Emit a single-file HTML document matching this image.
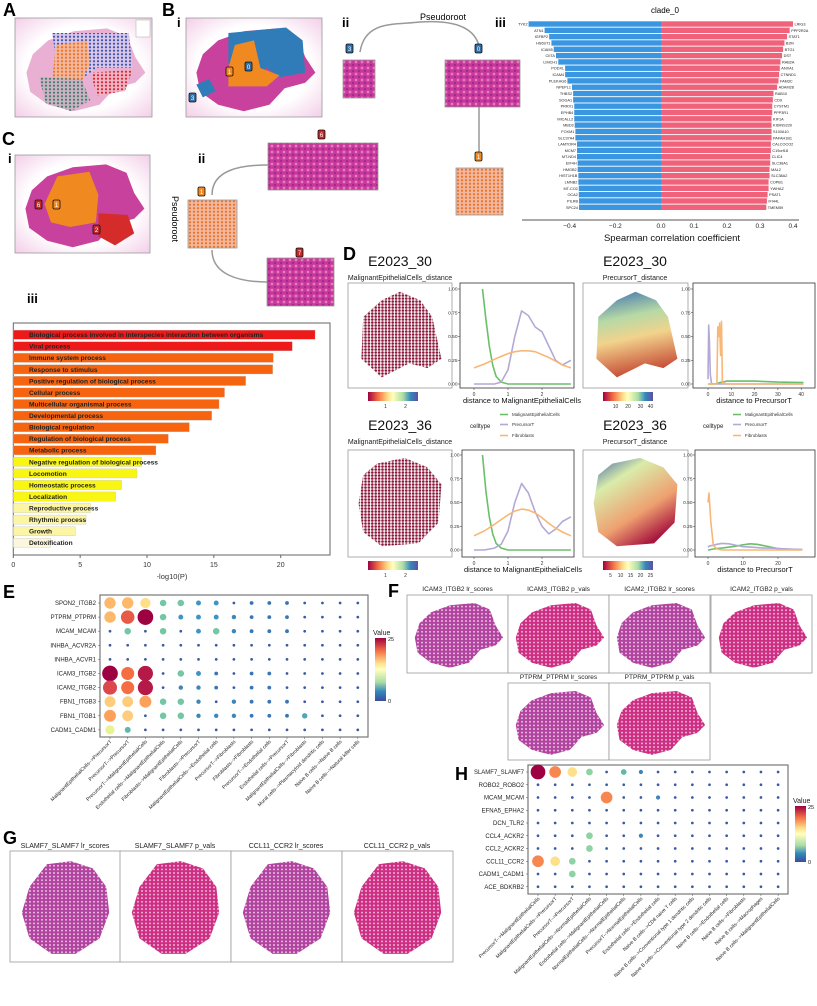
<!DOCTYPE html>
<html><head><meta charset="utf-8">
<style>
html,body{margin:0;padding:0;background:#fff;}
svg{display:block;font-family:"Liberation Sans",sans-serif;}
.pl{font-weight:bold;font-size:18px;fill:#000;}
.sl{font-weight:bold;font-size:13px;fill:#000;}
</style></head><body>
<svg id="fig" width="817" height="1006" viewBox="0 0 817 1006" xmlns="http://www.w3.org/2000/svg">
<defs>
<pattern id="pBlue" width="4" height="3.5" patternUnits="userSpaceOnUse"><rect width="4" height="3.5" fill="#d9c6ea"/><circle cx="2" cy="1.7" r="1.1" fill="#3f57a8"/></pattern>
<pattern id="pOrange" width="4" height="3.5" patternUnits="userSpaceOnUse"><rect width="4" height="3.5" fill="#f2b79c"/><circle cx="2" cy="1.7" r="1.1" fill="#e8742a"/></pattern>
<pattern id="pRed" width="4" height="3.5" patternUnits="userSpaceOnUse"><rect width="4" height="3.5" fill="#f0b5c5"/><circle cx="2" cy="1.7" r="1.1" fill="#d4283a"/></pattern>
<pattern id="pGray" width="4" height="3.5" patternUnits="userSpaceOnUse"><rect width="4" height="3.5" fill="#c9b3c4"/><circle cx="2" cy="1.7" r="1.1" fill="#4c7a6e"/></pattern>
<pattern id="pWhite" width="4" height="3.6" patternUnits="userSpaceOnUse"><rect width="4" height="3.6" fill="#b0449e"/><circle cx="2" cy="1.8" r="0.9" fill="#f4d4ee"/></pattern>
<pattern id="pWhite2" width="4" height="3.6" patternUnits="userSpaceOnUse"><rect width="4" height="3.6" fill="#cc2f84"/><circle cx="2" cy="1.8" r="0.9" fill="#f6cbe0"/></pattern>
<pattern id="pDark" width="3.4" height="3" patternUnits="userSpaceOnUse"><rect width="3.4" height="3" fill="#ffffff"/><circle cx="1.7" cy="1.5" r="1.3" fill="#8a1538"/></pattern>
<pattern id="pHE" width="6" height="6" patternUnits="userSpaceOnUse"><rect width="6" height="6" fill="#c8379a"/><circle cx="2" cy="2" r="1.4" fill="#e67ac0"/><circle cx="5" cy="5" r="1" fill="#8e2a8a"/></pattern>
<linearGradient id="spec" x1="0" x2="1" y1="0" y2="0">
<stop offset="0" stop-color="#9e0142"/><stop offset="0.2" stop-color="#f46d43"/><stop offset="0.4" stop-color="#fee08b"/><stop offset="0.5" stop-color="#ffffbf"/><stop offset="0.7" stop-color="#abdda4"/><stop offset="0.85" stop-color="#3288bd"/><stop offset="1" stop-color="#5e4fa2"/></linearGradient>
<linearGradient id="specV" x1="0" x2="0" y1="0" y2="1">
<stop offset="0" stop-color="#9e0142"/><stop offset="0.2" stop-color="#f46d43"/><stop offset="0.4" stop-color="#fee08b"/><stop offset="0.5" stop-color="#ffffbf"/><stop offset="0.7" stop-color="#abdda4"/><stop offset="0.85" stop-color="#3288bd"/><stop offset="1" stop-color="#3a4c9c"/></linearGradient>
<linearGradient id="distGrad" x1="0" x2="0.2" y1="0" y2="1">
<stop offset="0" stop-color="#3a6fb0"/><stop offset="0.35" stop-color="#b6d9a6"/><stop offset="0.6" stop-color="#f2d38c"/><stop offset="1" stop-color="#c8523a"/></linearGradient>
<linearGradient id="distGrad2" x1="0" x2="0.6" y1="0" y2="1">
<stop offset="0" stop-color="#3a5fa8"/><stop offset="0.3" stop-color="#d9ecaa"/><stop offset="0.7" stop-color="#eea070"/><stop offset="1" stop-color="#a8163e"/></linearGradient>
<radialGradient id="bgPink" cx="0.5" cy="0.5" r="0.7"><stop offset="0.6" stop-color="#fff"/><stop offset="1" stop-color="#f3cfe8"/></radialGradient>
</defs>

<text class="pl" x="3" y="16">A</text>
<text class="pl" x="162" y="16">B</text>
<text class="sl" x="177" y="27">i</text>
<text class="sl" x="342" y="27">ii</text>
<text class="sl" x="495" y="27">iii</text>
<text x="420" y="20" font-size="9">Pseudoroot</text>
<text class="pl" x="2" y="145">C</text>
<text class="sl" x="8" y="163">i</text>
<text class="sl" x="198" y="163">ii</text>
<text class="sl" x="27" y="303">iii</text>
<text x="0" y="0" font-size="9" transform="translate(172,196) rotate(90)">Pseudoroot</text>
<text class="pl" x="343" y="260">D</text>
<text class="pl" x="3" y="598">E</text>
<text class="pl" x="388" y="597">F</text>
<text class="pl" x="3" y="844">G</text>
<text class="pl" x="455" y="780">H</text>

<g id="tissues"></g>
<g id="treeB"></g>
<g id="barB"></g>
<g id="barC"></g>
<g id="panelD"></g>
<g id="dotE"></g>
<g id="dotH"></g>
</svg>

<script>
const bLeftGenes = ["TYK2","ATN1","IGFBP2","HS6ST1","ICAM5","CIITA","LIMCH1","PODXL","ICAM4","PLEKHG6","NPEPL1","THBS2","SOGA1","PRRX1","EPHB4","MICALL2","MBD3","FOXM1","SLC37A4","LAMTOR4","MCM7","MT-ND4","EIF4H","HMGB2","HIST1H1B","LMNB2","MT-CO2","OCA2","PILRB","SPC24"];
const bLeftVals = [-0.58,-0.51,-0.49,-0.48,-0.47,-0.46,-0.45,-0.42,-0.42,-0.41,-0.39,-0.385,-0.385,-0.38,-0.38,-0.38,-0.378,-0.375,-0.375,-0.368,-0.368,-0.368,-0.365,-0.365,-0.362,-0.362,-0.36,-0.36,-0.359,-0.359];
const bRightGenes = ["LRIG3","PPP2R2A","STAT1","B2M","BTG1","DST","RAB2A","ANXA1","CTNND1","FAM3C","ADAM28","RAB10","CD9","CYSTM1","PPP3R1","KIF1A","KIDINS220","S100A10","PAFAH1B1","CALCOCO2","C19orf18","CLIC4","SLC38A1","MAL2","SLC38A2","COPB1","YWHAZ","PSAT1","IFI44L","TMEM59"];
const bRightVals = [0.40,0.39,0.382,0.374,0.37,0.367,0.362,0.36,0.358,0.356,0.352,0.341,0.339,0.337,0.337,0.335,0.335,0.335,0.335,0.333,0.333,0.331,0.331,0.329,0.329,0.326,0.326,0.323,0.321,0.319];
const bTicks = [-0.4,-0.2,0.0,0.1,0.2,0.3,0.4];
const bTickLabels = ["\u22120.4","\u22120.2","0.0","0.1","0.2","0.3","0.4"];

const goTerms = ["Biological process involved in interspecies interaction between organisms","Viral process","Immune system process","Response to stimulus","Positive regulation of biological process","Cellular process","Multicellular organismal process","Developmental process","Biological regulation","Regulation of biological process","Metabolic process","Negative regulation of biological process","Locomotion","Homeostatic process","Localization","Reproductive process","Rhythmic process","Growth","Detoxification"];
const goVals = [22.57,20.87,19.45,19.4,17.38,15.8,15.39,14.84,13.17,11.6,10.67,9.6,9.25,8.1,7.65,5.79,5.44,4.64,2.79];
const goTicks = [0,5,10,15,20];

const dTLx = [0.25,0.35,0.45,0.55,0.65,0.8,1.0,1.5,2.0,2.5,2.85];
const dTLgreen = [1.0,0.68,0.4,0.2,0.08,0.02,0,0,0,0,0];
const dXs = [0,0.3,0.6,0.8,1.0,1.2,1.4,1.6,1.8,2.0,2.2,2.4,2.6,2.85];
const dTLpurple = [0,0,0,0.02,0.15,0.5,0.77,0.72,0.6,0.55,0.4,0.25,0.2,0.25];
const dTLorange = [0.17,0.21,0.26,0.29,0.32,0.34,0.35,0.35,0.34,0.31,0.28,0.24,0.2,0.17];
const dBLgreen = [1.0,0.62,0.35,0.17,0.07,0.02,0,0,0,0,0];
const dBLpurple = [0,0,0.02,0.06,0.2,0.5,0.7,0.6,0.4,0.25,0.17,0.22,0.3,0.35];
const dBLorange = [0.15,0.2,0.27,0.32,0.37,0.41,0.43,0.42,0.39,0.34,0.28,0.23,0.19,0.15];
const dTRx = [0,0.3,0.6,1.0,1.5,2.5,3.8,4.2,4.6,5.0,5.4,5.8,6.2,8,12,20,30,41];
const dTRpurple = [0.05,0.62,0.45,0.1,0.01,0,0,0,0,0,0,0,0,0,0,0,0,0];
const dTRorange = [0,0,0,0,0,0,0,0.6,0.5,0.64,0.3,0.66,0.02,0,0,0,0,0];
const dTRgreen = [0,0,0,0,0,0,0.005,0.01,0.01,0.015,0.015,0.02,0.02,0.03,0.03,0.03,0.02,0.015];
const dBRx = [0,0.3,0.8,1.5,2.5,4,6,8,10,12,14,16,18,20,23,27];
const dBRorange = [0.5,0.6,0.3,0.05,0.01,0,0,0,0,0,0,0,0,0,0,0];
const dBRpurple = [0.03,0.04,0.045,0.05,0.06,0.07,0.065,0.05,0.035,0.03,0.025,0.02,0.02,0.015,0.01,0.005];
const dBRgreen = [0,0,0.005,0.01,0.015,0.02,0.03,0.04,0.055,0.065,0.06,0.045,0.03,0.015,0.008,0.003];
const dYTicks = [0,0.25,0.5,0.75,1.0];
const dYTickLabels = ["0.00","0.25","0.50","0.75","1.00"];

const eRows = ["SPON2_ITGB2","PTPRM_PTPRM","MCAM_MCAM","INHBA_ACVR2A","INHBA_ACVR1","ICAM3_ITGB2","ICAM2_ITGB2","FBN1_ITGB3","FBN1_ITGB1","CADM1_CADM1"];
const eCols = ["MalignantEpithelialCells-->PrecursorT","PrecursorT-->PrecursorT","PrecursorT-->MalignantEpithelialCells","Endothelial cells-->MalignantEpithelialCells","Fibroblasts-->MalignantEpithelialCells","Fibroblasts-->PrecursorT","MalignantEpithelialCells-->Endothelial cells","PrecursorT-->Fibroblasts","Fibroblasts-->Fibroblasts","PrecursorT-->Endothelial cells","Endothelial cells-->PrecursorT","MalignantEpithelialCells-->Fibroblasts","Mural cells-->Plasmacytoid dendritic cells","Naive B cells-->Naive B cells","Naive B cells-->Natural killer cells"];
const eVals = [
 [17,17,15,8,8,5,5,1,3,3,3,1,1,1,1],
 [17,21,25,8,5,5,5,4,3,3,3,1,1,1,1],
 [1,8,1,8,1,5,8,4,3,3,3,1,1,1,1],
 [1,1,1,1,1,1,1,1,1,1,1,1,1,1,1],
 [1,1,1,1,1,1,1,1,1,1,1,1,1,1,1],
 [25,20,24,1,8,5,3,1,3,3,1,1,1,1,1],
 [22,20,24,1,4,4,3,1,3,3,1,1,1,1,1],
 [16,16,18,8,8,4,1,4,3,3,3,1,1,1,1],
 [18,16,1,8,8,4,4,4,3,3,3,6,1,1,1],
 [13,7,1,1,1,1,1,1,1,1,1,1,1,1,1]];

const hRows = ["SLAMF7_SLAMF7","ROBO2_ROBO2","MCAM_MCAM","EFNA5_EPHA2","DCN_TLR2","CCL4_ACKR2","CCL2_ACKR2","CCL11_CCR2","CADM1_CADM1","ACE_BDKRB2"];
const hCols = ["PrecursorT-->MalignantEpithelialCells","MalignantEpithelialCells-->PrecursorT","PrecursorT-->PrecursorT","MalignantEpithelialCells-->NormalEpithelialCells","Endothelial cells-->MalignantEpithelialCells","NormalEpithelialCells-->NormalEpithelialCells","PrecursorT-->NormalEpithelialCells","Endothelial cells-->Endothelial cells","Naive B cells-->CD8  naive T cells","Naive B cells-->Conventional type 1 dendritic cells","Naive B cells-->Conventional type 2 dendritic cells","Naive B cells-->Endothelial cells","Naive B cells-->Fibroblasts","Naive B cells-->Macrophages","Naive B cells-->MalignantEpithelialCells"];
const hVals = [
 [25,19,15,9,1,7,4,1,1,1,1,1,1,1,1],
 [1,1,1,1,1,1,1,1,1,1,1,1,1,1,1],
 [1,1,1,1,19,1,1,4,1,1,1,1,1,1,1],
 [1,1,1,1,1,1,1,1,1,1,1,1,1,1,1],
 [1,1,1,1,1,1,1,1,1,1,1,1,1,1,1],
 [1,1,1,9,1,1,4,1,1,1,1,1,1,1,1],
 [1,1,1,9,1,1,1,1,1,1,1,1,1,1,1],
 [19,15,9,1,1,1,1,1,1,1,1,1,1,1,1],
 [1,1,9,1,1,1,1,1,1,1,1,1,1,1,1],
 [1,1,1,1,1,1,1,1,1,1,1,1,1,1,1]];

const NS='http://www.w3.org/2000/svg';
function mk(tag, attrs, parent){const e=document.createElementNS(NS,tag);for(const k in attrs)e.setAttribute(k,attrs[k]);parent.appendChild(e);return e;}
function txt(str, attrs, parent){const e=mk('text',attrs,parent);e.textContent=str;return e;}

const T=document.getElementById('tissues');
const blobU=[[0.05,0.55],[0.1,0.35],[0.22,0.2],[0.42,0.1],[0.68,0.07],[0.84,0.16],[0.9,0.38],[0.98,0.55],[0.9,0.66],[0.74,0.72],[0.62,0.9],[0.42,0.97],[0.22,0.9],[0.08,0.76]];
const roundU=[[0.12,0.3],[0.3,0.08],[0.55,0.05],[0.78,0.12],[0.92,0.3],[0.95,0.55],[0.85,0.8],[0.6,0.95],[0.35,0.95],[0.12,0.8],[0.04,0.55]];
function poly(pts,x,y,w,h){return pts.map(p=>(x+p[0]*w).toFixed(1)+','+(y+p[1]*h).toFixed(1)).join(' ');}
function box(x,y,w,h,fill,name){const r=mk('rect',{x:x,y:y,width:w,height:h,fill:fill,stroke:'#999','stroke-width':0.8},T);return r;}
function blob(pts,x,y,w,h,fill,name){const p=mk('polygon',{points:poly(pts,x,y,w,h),fill:fill},T);return p;}
function badge(x,y,n,col,name){const r=mk('rect',{x:x,y:y,width:7,height:9,rx:1.5,fill:col,stroke:'#111','stroke-width':0.8},T);txt(n,{x:x+3.5,y:y+7,'font-size':6,'text-anchor':'middle',fill:'#fff'},T);}

box(15,18,137,99,'url(#bgPink)','tissue-a-box');
blob(blobU,20,22,128,92,'#eab0d4','tissue-a-blob');
blob([[0.25,0.12],[0.85,0.12],[0.88,0.5],[0.6,0.5],[0.5,0.6],[0.3,0.55]],20,22,128,92,'url(#pBlue)','cluster-0-region');
blob([[0.28,0.25],[0.52,0.2],[0.55,0.45],[0.48,0.65],[0.25,0.65]],20,22,128,92,'url(#pOrange)','cluster-1-region');
blob([[0.55,0.55],[0.88,0.52],[0.82,0.75],[0.6,0.8]],20,22,128,92,'url(#pRed)','cluster-2-region');
blob([[0.15,0.6],[0.48,0.62],[0.55,0.85],[0.4,0.97],[0.2,0.88]],20,22,128,92,'url(#pGray)','cluster-3-region');
mk('rect',{x:136,y:20,width:14,height:17,fill:'#fff',stroke:'#aaa','stroke-width':0.5},T);
box(186,18,136,99,'url(#bgPink)','tissue-b-box');
blob(blobU,190,22,128,92,'#c8419c','tissue-b-blob');
blob([[0.3,0.12],[0.75,0.06],[0.88,0.2],[0.9,0.55],[0.7,0.6],[0.6,0.5],[0.5,0.62],[0.3,0.45]],190,22,128,92,'#2f7cb8','cluster-0-blue-region');
blob([[0.35,0.25],[0.5,0.2],[0.55,0.5],[0.7,0.58],[0.6,0.7],[0.3,0.7],[0.3,0.5]],190,22,128,92,'#f0891f','cluster-1-orange-region');
blob([[0.05,0.68],[0.15,0.62],[0.2,0.75],[0.1,0.82]],190,22,128,92,'#2f7cb8','cluster-3-blue-region');
badge(245,62,'0','#2f6fa8','badge-b-0');badge(226,67,'1','#f0891f','badge-b-1');badge(189,93,'3','#2f6fa8','badge-b-3');
box(15,155,135,98,'url(#bgPink)','tissue-c-box');
blob(blobU,19,158,128,92,'#c8419c','tissue-c-blob');
blob([[0.3,0.2],[0.55,0.15],[0.62,0.4],[0.6,0.7],[0.4,0.75],[0.25,0.7],[0.2,0.5]],19,158,128,92,'#f0891f','cluster-1-region-c');
blob([[0.62,0.6],[0.85,0.62],[0.9,0.82],[0.75,0.95],[0.62,0.85]],19,158,128,92,'#d52b2b','cluster-2-region-c');
badge(35,200,'6','#c62828','badge-c-6');badge(53,200,'1','#f0891f','badge-c-1');badge(93,225,'2','#c62828','badge-c-2');
mk('path',{d:'M360,52 C365,20 395,25 420,22 C450,20 478,25 480,52',fill:'none',stroke:'#999','stroke-width':1.5},T);
badge(346,44,'3','#2f6fa8','badge-tree-3');badge(475,44,'0','#2f6fa8','badge-tree-0');
box(343,60,32,38,'url(#pHE)','tree-image-3');
box(445,60,75,47,'url(#pHE)','tree-image-0');
mk('line',{x1:479,y1:107,x2:479,y2:152,stroke:'#999','stroke-width':1.5},T);
badge(475,152,'1','#f0891f','badge-tree-1');
box(456,168,47,47,'url(#pOrange)','tree-image-1');
mk('path',{d:'M212,195 C212,170 240,165 268,165',fill:'none',stroke:'#999','stroke-width':1.5},T);
mk('path',{d:'M212,250 C212,275 240,282 267,282',fill:'none',stroke:'#999','stroke-width':1.5},T);
badge(198,187,'1','#f0891f','badge-ctree-1');badge(318,130,'6','#c62828','badge-ctree-6');badge(296,248,'7','#c62828','badge-ctree-7');
box(188,200,49,48,'url(#pOrange)','ctree-image-1');
box(268,143,110,47,'url(#pHE)','ctree-image-6');
box(267,258,67,48,'url(#pHE)','ctree-image-7');

const fTitles=[["ICAM3_ITGB2 lr_scores",407,595,'url(#pWhite)'],["ICAM3_ITGB2 p_vals",508,595,'url(#pWhite2)'],["ICAM2_ITGB2 lr_scores",609,595,'url(#pWhite)'],["ICAM2_ITGB2 p_vals",711,595,'url(#pWhite2)'],["PTPRM_PTPRM lr_scores",508,683,'url(#pWhite)'],["PTPRM_PTPRM p_vals",609,683,'url(#pWhite2)']];
fTitles.forEach(f=>{
  const w=101, h=f[2]===595?78:77;
  box(f[1],f[2],w,h,'#fff','f-panel');
  blob(blobU,f[1]+3,f[2]+3,w-6,h-6,f[3],'f-tissue');
  const t=txt(f[0],{x:f[1]+w/2,y:f[2]-4,'font-size':6.5,'text-anchor':'middle',fill:'#222'},T);
  
  
});
const gTitles=[["SLAMF7_SLAMF7 lr_scores",10,'url(#pWhite)'],["SLAMF7_SLAMF7 p_vals",120,'url(#pWhite2)'],["CCL11_CCR2 lr_scores",231,'url(#pWhite)'],["CCL11_CCR2 p_vals",342,'url(#pWhite2)']];
gTitles.forEach(g=>{
  box(g[1],851,111,111,'#fff','g-panel');
  blob(roundU,g[1]+8,856,96,103,g[2],'g-tissue');
  const t=txt(g[0],{x:g[1]+55,y:848,'font-size':7,'text-anchor':'middle',fill:'#222'},T);
  
  
});

const GB=document.getElementById('barB');
const bZero=661, bRowY0=24, bRowStep=6.32;
function bx(v){return v<0? bZero+v*228.3 : bZero+v*330;}
txt('clade_0',{x:665,y:13,'font-size':8,'text-anchor':'middle'},GB);
bLeftVals.forEach((v,i)=>{
  const y=bRowY0+i*bRowStep;
  const r=mk('rect',{x:bx(v),y:y-2.7,width:bZero-bx(v),height:5.4,fill:'#3a96e0'},GB);
  
  
  txt(bLeftGenes[i],{x:bx(v)-1,y:y+1.5,'font-size':3.8,'text-anchor':'end',fill:'#222'},GB);
});
bRightVals.forEach((v,i)=>{
  const y=bRowY0+i*bRowStep;
  const r=mk('rect',{x:bZero,y:y-2.7,width:bx(v)-bZero,height:5.4,fill:'#f0627a'},GB);
  
  
  txt(bRightGenes[i],{x:bx(v)+1.5,y:y+1.5,'font-size':3.8,fill:'#222'},GB);
});
mk('line',{x1:522,y1:220,x2:799,y2:220,stroke:'#555','stroke-width':1},GB);
bTicks.forEach((t,i)=>{txt(bTickLabels[i],{x:bx(t),y:228,'font-size':6.5,'text-anchor':'middle',fill:'#222'},GB);});
txt('Spearman correlation coefficient',{x:672,y:241,'font-size':9.5,'text-anchor':'middle',fill:'#111'},GB);

const GC=document.getElementById('barC');
const cX0=13.3, cPx=13.37, cY0=334.7, cStep=11.56;
function cx(v){return cX0+v*cPx;}
function goColor(i){return i<2?'#ee1a1a':i<11?'#f7640f':i<15?'#faf614':i<18?'#fbf5a4':'#fbf6dc';}
mk('rect',{x:13.3,y:323,width:316.7,height:232,fill:'none',stroke:'#666','stroke-width':1},GC);
goVals.forEach((v,i)=>{
  const y=cY0+i*cStep;
  const r=mk('rect',{x:cx(0),y:y-4.6,width:cx(v)-cx(0),height:9.2,fill:goColor(i),stroke:'#bbb','stroke-width':0.3},GC);
  
  
  txt(goTerms[i],{x:29,y:y+2.4,'font-size':6.6,'font-weight':'bold',fill:'#222'},GC);
});
goTicks.forEach(t=>{
  mk('line',{x1:cx(t),y1:555,x2:cx(t),y2:558,stroke:'#666'},GC);
  txt(String(t),{x:cx(t),y:567,'font-size':7,'text-anchor':'middle',fill:'#333'},GC);
});
txt('-log10(P)',{x:172,y:579,'font-size':7.5,'text-anchor':'middle',fill:'#333'},GC);

const GD=document.getElementById('panelD');
function dPanel(o){
  txt(o.title,{x:o.sx+52,y:o.ty,'font-size':14,'text-anchor':'middle',fill:'#111'},GD);
  txt(o.sub,{x:o.sx+52,y:o.ty+14,'font-size':7,'text-anchor':'middle',fill:'#222'},GD);
  const sb=mk('rect',{x:o.sx,y:o.y0,width:o.sw,height:o.h,fill:'#fff',stroke:'#999','stroke-width':0.8},GD);
  
  
  mk('polygon',{points:poly(o.blobPts,o.sx+6,o.y0+6,o.sw-12,o.h-12),fill:o.fill},GD);
  mk('rect',{x:o.sx+20,y:o.y0+o.h+4,width:50,height:9,fill:'url(#spec)'},GD);
  o.cbLab.forEach((l,i)=>txt(l,{x:o.sx+20+o.cbPos[i]*50,y:o.y0+o.h+20,'font-size':5,'text-anchor':'middle',fill:'#333'},GD));
  const lb=mk('rect',{x:o.lx0,y:o.y0,width:o.lx1-o.lx0,height:o.h,fill:'#fff',stroke:'#333','stroke-width':0.8},GD);
  
  
  const ypx=v=>o.yb-(v*(o.yb-o.yt));
  const xpx=v=>o.x0px+v*o.xs;
  dYTicks.forEach((t,i)=>{mk('line',{x1:o.lx0-2,y1:ypx(t),x2:o.lx0,y2:ypx(t),stroke:'#333','stroke-width':0.5},GD);txt(dYTickLabels[i],{x:o.lx0-2.5,y:ypx(t)+1.7,'font-size':4.8,'text-anchor':'end',fill:'#333'},GD);});
  o.xt.forEach(t=>{mk('line',{x1:xpx(t),y1:o.y0+o.h,x2:xpx(t),y2:o.y0+o.h+2,stroke:'#333','stroke-width':0.5},GD);txt(String(t),{x:xpx(t),y:o.y0+o.h+8,'font-size':5,'text-anchor':'middle',fill:'#333'},GD);});
  txt(o.xlab,{x:(o.lx0+o.lx1)/2+(o.xlabShift||0),y:o.y0+o.h+15,'font-size':7.5,'text-anchor':'middle',fill:'#111'},GD);
  o.series.forEach(s=>{
    const pts=s.xs.map((x,i)=>xpx(x).toFixed(1)+','+ypx(s.ys[i]).toFixed(1)).join(' ');
    const pl=mk('polyline',{points:pts,fill:'none',stroke:s.c,'stroke-width':1.6,'stroke-linejoin':'round'},GD);
    
    
  });
}
const hexU=[[0.3,0.12],[0.5,0.03],[0.72,0.12],[0.85,0.3],[0.95,0.75],[0.8,0.85],[0.6,0.8],[0.3,0.95],[0.08,0.75],[0.1,0.3]];
const hexU2=[[0.25,0.08],[0.55,0.02],[0.8,0.12],[0.95,0.3],[0.92,0.7],[0.7,0.92],[0.3,0.95],[0.1,0.8],[0.05,0.5],[0.1,0.2]];
dPanel({title:'E2023_30',sub:'MalignantEpithelialCells_distance',ty:266,sx:348,sw:104,y0:283,h:105,lx0:460,lx1:574,yt:289,yb:384,x0px:474,xs:34,xt:[0,1,2],xlab:'distance to MalignantEpithelialCells',xlabShift:5,fill:'url(#pDark)',blobPts:hexU,cbLab:['1','2'],cbPos:[0.35,0.75],
 series:[{n:'malignant',c:'#6cbf6a',xs:dTLx,ys:dTLgreen},{n:'precursor',c:'#b4a8d6',xs:dXs,ys:dTLpurple},{n:'fibroblasts',c:'#f7b777',xs:dXs,ys:dTLorange}]});
dPanel({title:'E2023_36',sub:'MalignantEpithelialCells_distance',ty:430,sx:348,sw:104,y0:450,h:107,lx0:462,lx1:574,yt:455,yb:550,x0px:474,xs:34,xt:[0,1,2],xlab:'distance to MalignantEpithelialCells',xlabShift:5,fill:'url(#pDark)',blobPts:hexU2,cbLab:['1','2'],cbPos:[0.35,0.75],
 series:[{n:'malignant',c:'#6cbf6a',xs:dTLx,ys:dBLgreen},{n:'precursor',c:'#b4a8d6',xs:dXs,ys:dBLpurple},{n:'fibroblasts',c:'#f7b777',xs:dXs,ys:dBLorange}]});
dPanel({title:'E2023_30',sub:'PrecursorT_distance',ty:266,sx:583,sw:105,y0:283,h:105,lx0:693,lx1:815,yt:289,yb:384,x0px:708,xs:2.33,xt:[0,10,20,30,40],xlab:'distance to PrecursorT',fill:'url(#distGrad)',blobPts:hexU,cbLab:['10','20','30','40'],cbPos:[0.25,0.5,0.75,0.95],
 series:[{n:'malignant',c:'#6cbf6a',xs:dTRx,ys:dTRgreen},{n:'precursor',c:'#b4a8d6',xs:dTRx,ys:dTRpurple},{n:'fibroblasts',c:'#f7b777',xs:dTRx,ys:dTRorange}]});
dPanel({title:'E2023_36',sub:'PrecursorT_distance',ty:430,sx:583,sw:105,y0:450,h:107,lx0:695,lx1:815,yt:455,yb:550,x0px:708,xs:3.5,xt:[0,10,20],xlab:'distance to PrecursorT',fill:'url(#distGrad2)',blobPts:hexU2,cbLab:['5','10','15','20','25'],cbPos:[0.15,0.35,0.55,0.75,0.95],
 series:[{n:'malignant',c:'#6cbf6a',xs:dBRx,ys:dBRgreen},{n:'precursor',c:'#b4a8d6',xs:dBRx,ys:dBRpurple},{n:'fibroblasts',c:'#f7b777',xs:dBRx,ys:dBRorange}]});
[[470,500],[703,733]].forEach(l=>{
  txt('celltype',{x:l[0],y:428,'font-size':6,fill:'#222'},GD);
  [['MalignantEpithelialCells','#6cbf6a',416],['PrecursorT','#b4a8d6',426],['Fibroblasts','#f7b777',437]].forEach(e=>{
    const ln=mk('line',{x1:l[1],y1:e[2]-1.5,x2:l[1]+8,y2:e[2]-1.5,stroke:e[1],'stroke-width':1.6},GD);
    
    
    txt(e[0],{x:l[1]+12,y:e[2],'font-size':4.5,fill:'#333'},GD);
  });
});

const specStops=['#3a4c9c','#3a6eb0','#3f94c2','#66c2a5','#abdda4','#e6f598','#fee08b','#fdae61','#f46d43','#d53e4f','#9e0142'];
function hex2rgb(h){return [parseInt(h.slice(1,3),16),parseInt(h.slice(3,5),16),parseInt(h.slice(5,7),16)];}
function specColor(v){const t=Math.max(0,Math.min(1,v/25))*10;const i=Math.min(9,Math.floor(t));const f=t-i;const a=hex2rgb(specStops[i]),b=hex2rgb(specStops[i+1]);return 'rgb('+a.map((c,k)=>Math.round(c+(b[k]-c)*f)).join(',')+')';}
function dotPlot(G,rows,cols,vals,o){
  const fr=mk('rect',{x:o.x0,y:o.y0,width:o.x1-o.x0,height:o.y1-o.y0,fill:'#fff',stroke:'#777','stroke-width':1.2},G);
  
  
  const colX=j=>o.cx0+j*o.cs, rowY=i=>o.ry0+i*o.rs;
  rows.forEach((r,i)=>{
    txt(r,{x:o.x0-4,y:rowY(i)+2,'font-size':6,'text-anchor':'end',fill:'#222'},G);
    mk('line',{x1:o.x0-2,y1:rowY(i),x2:o.x0,y2:rowY(i),stroke:'#555','stroke-width':0.5},G);
    vals[i].forEach((v,j)=>{
      const c=mk('circle',{cx:colX(j),cy:rowY(i),r:(1.1+v*o.rk).toFixed(2),fill:specColor(v)},G);
      
      
    });
  });
  cols.forEach((c,j)=>{
    mk('line',{x1:colX(j),y1:o.y1,x2:colX(j),y2:o.y1+2,stroke:'#555','stroke-width':0.5},G);
    txt(c,{x:0,y:0,'font-size':5,'text-anchor':'end',fill:'#222',transform:'translate('+(colX(j)+2)+','+(o.y1+5)+') rotate(-45)'},G);
  });
  txt('Value',{x:o.lgx-2,y:o.lgy-3,'font-size':7,fill:'#222'},G);
  mk('rect',{x:o.lgx,y:o.lgy,width:11,height:o.lgh,fill:'url(#specV)'},G);
  txt('25',{x:o.lgx+13,y:o.lgy+3,'font-size':5.5,fill:'#222'},G);
  txt('0',{x:o.lgx+13,y:o.lgy+o.lgh+2,'font-size':5.5,fill:'#222'},G);
}
dotPlot(document.getElementById('dotE'),eRows,eCols,eVals,{x0:100,y0:595,x1:368,y1:737,cx0:110,cs:17.7,ry0:603,rs:14.1,rk:0.27,lgx:375,lgy:638,lgh:63});
dotPlot(document.getElementById('dotH'),hRows,hCols,hVals,{x0:528,y0:765,x1:788,y1:894,cx0:538,cs:17.15,ry0:772,rs:12.75,rk:0.25,lgx:795,lgy:806,lgh:56});
</script>
</body></html>
